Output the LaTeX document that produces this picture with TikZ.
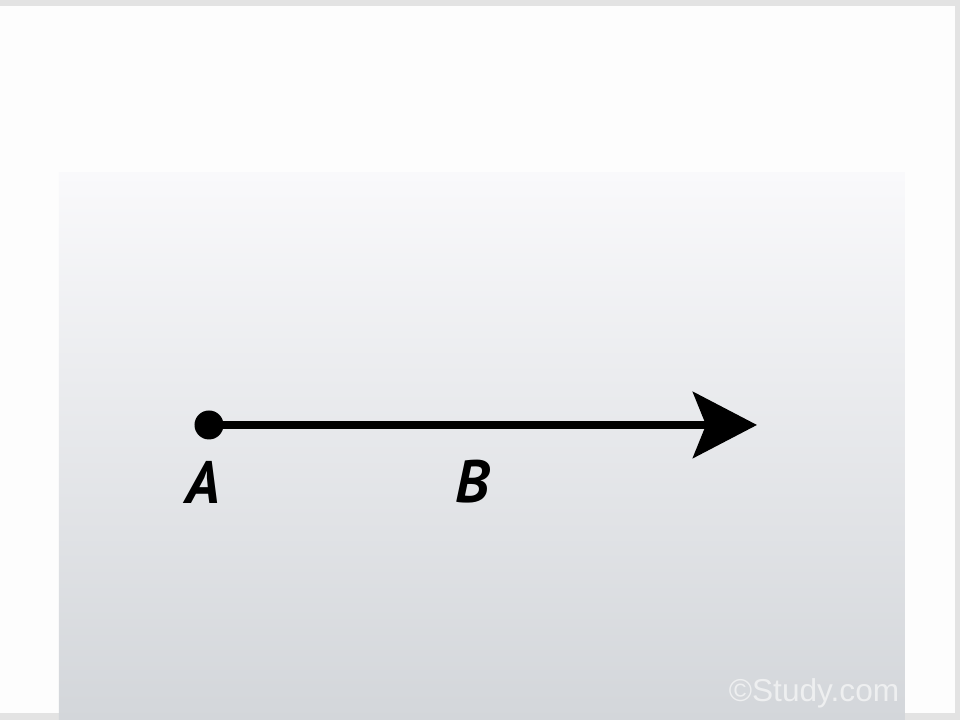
\documentclass[tikz,border=0pt]{standalone}
\usepackage{fontspec}
\setmainfont{PT Sans}
\newfontfamily\markfont{Liberation Sans}
\usetikzlibrary{arrows.meta}
\definecolor{pagebg}{HTML}{FDFDFD}
\definecolor{stripgray}{HTML}{E3E3E3}
\definecolor{paneltop}{HTML}{F9F9FB}
\definecolor{panelbot}{HTML}{D3D6DA}
\definecolor{marktext}{HTML}{EEEFF0}
\tikzset{
  pointlabel/.style={font=\fontsize{17}{20}\selectfont\bfseries\itshape, inner sep=0pt},
  raystroke/.style={line width=2.3pt, -{Stealth[length=0.64cm, width=0.66cm, inset=0.13cm]}}
}
\begin{document}
\begin{tikzpicture}
  \useasboundingbox (0,0) rectangle (9.6,7.2);
  \fill[pagebg] (0,0) rectangle (9.6,7.2);
  \fill[stripgray] (0,7.14) rectangle (9.6,7.2);
  \fill[stripgray] (9.55,0) rectangle (9.6,7.2);
  \fill[stripgray] (0,0) rectangle (9.55,0.07);
  \shade[top color=paneltop, bottom color=panelbot] (0.59,0) rectangle (9.05,5.47);
  % ray from A through B
  \node[circle, fill=black, inner sep=0pt, minimum size=0.29cm] (dotA) at (2.09,2.95) {};
  \coordinate (tip) at (7.57,2.95);
  \draw[raystroke] (dotA.center) -- (tip);
  \node[pointlabel] (labA) at (2.03,2.38) {A};
  \node[pointlabel] (labB) at (4.72,2.38) {B};
  \node[font=\markfont\fontsize{9}{10}\selectfont, text=marktext, inner sep=0pt] (mark) at (8.14,0.27) {\textcopyright Study.com};
\end{tikzpicture}
\end{document}
